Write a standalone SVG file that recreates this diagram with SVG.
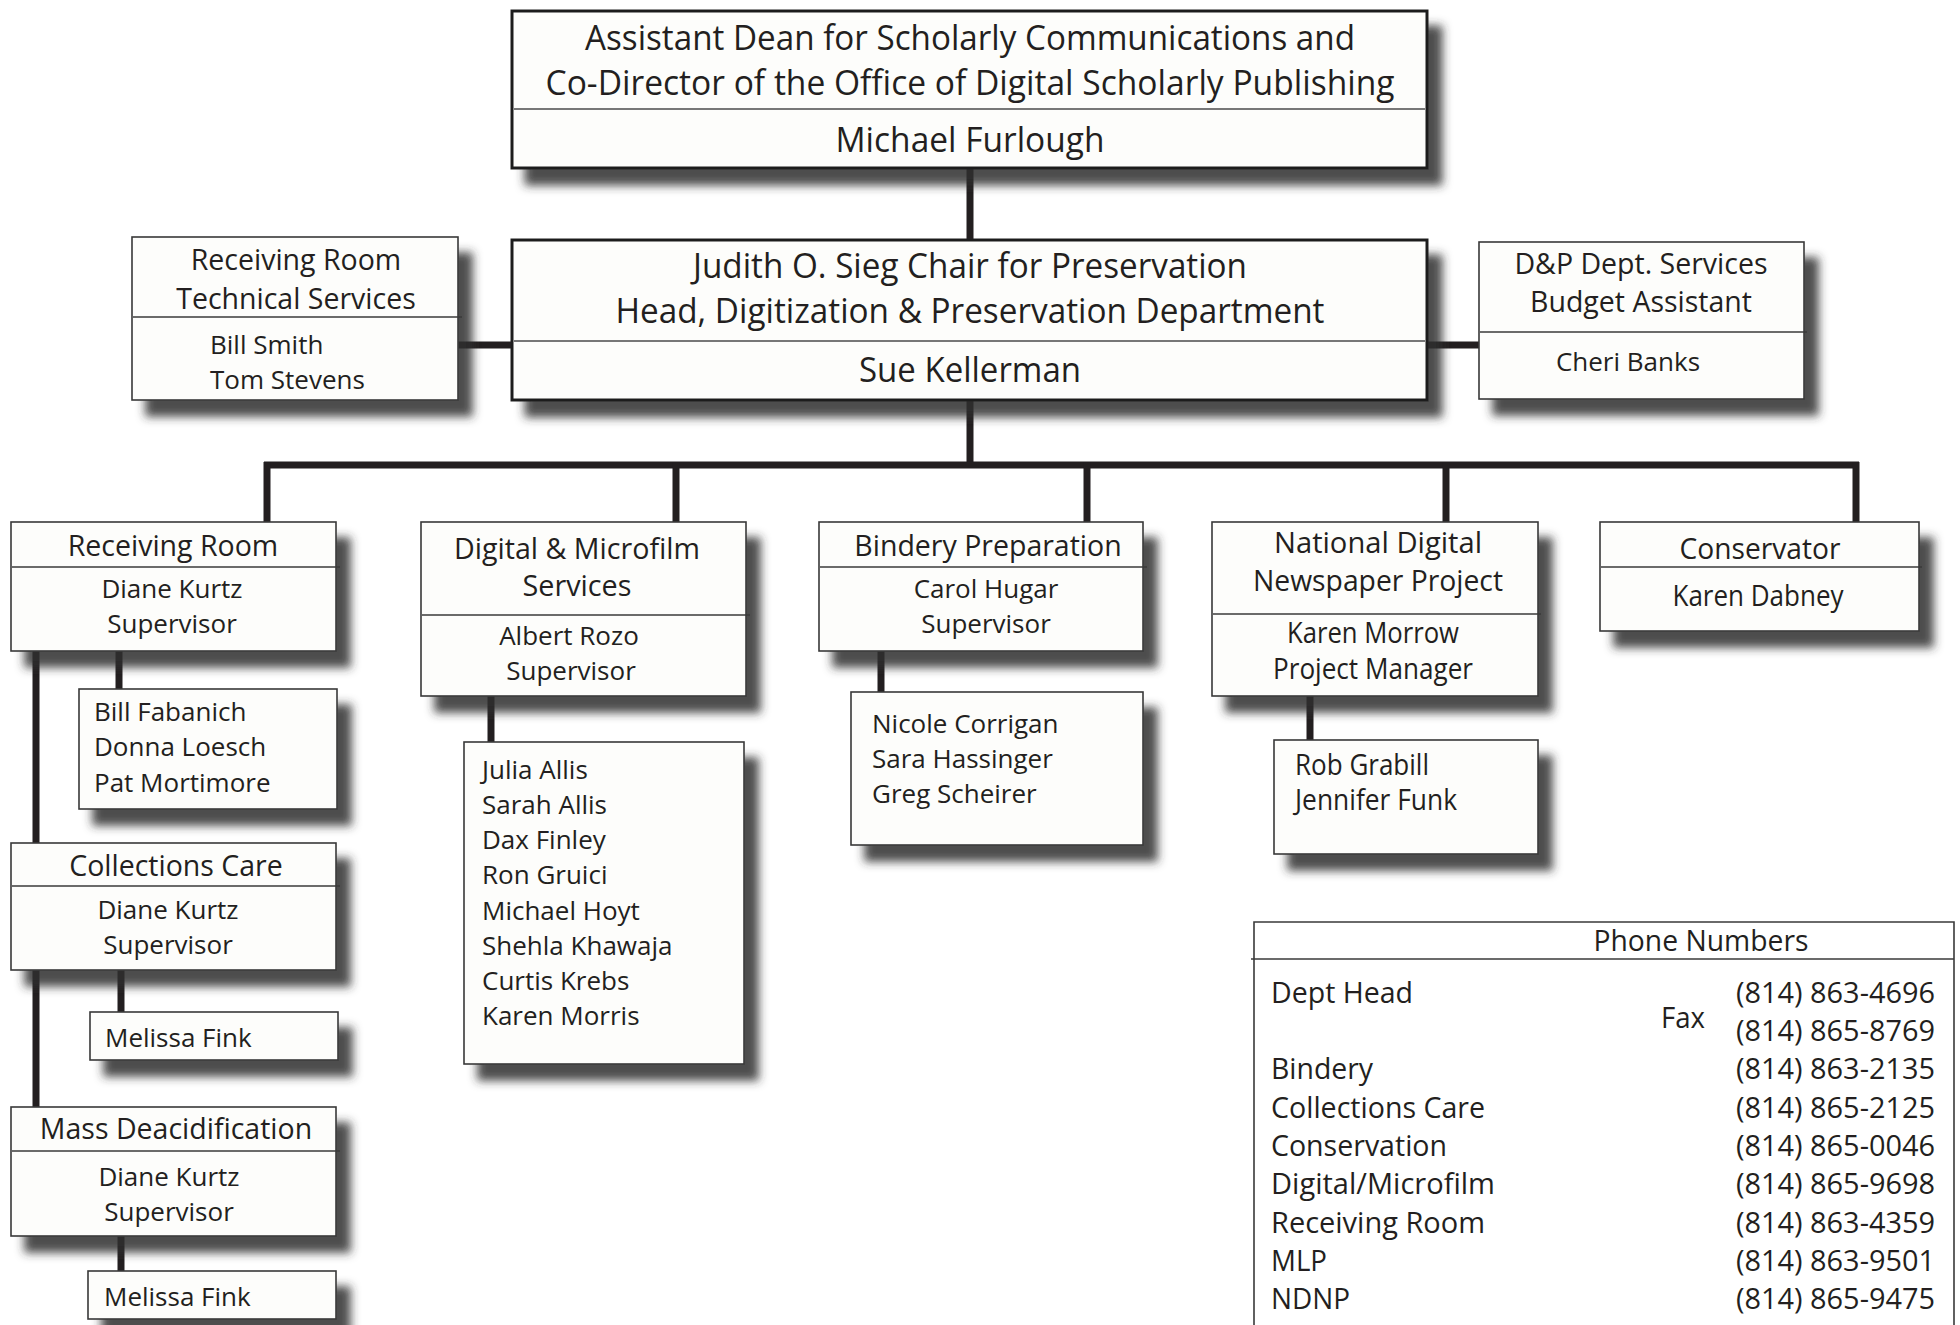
<svg xmlns="http://www.w3.org/2000/svg" width="1960" height="1325" viewBox="0 0 1960 1325">
<defs>
<filter id="sh" x="-10%" y="-20%" width="130%" height="180%">
<feDropShadow dx="14" dy="16" stdDeviation="5" flood-color="#2e2e2e" flood-opacity="0.85"/>
</filter>
<filter id="shs" x="-10%" y="-60%" width="130%" height="260%">
<feDropShadow dx="14" dy="16" stdDeviation="5" flood-color="#2e2e2e" flood-opacity="0.85"/>
</filter>
<style>
.box{fill:#fdfdfb;stroke:#3a3a3a;stroke-width:1.6}
.bbox{fill:#fdfdfb;stroke:#1f1f1f;stroke-width:3}
.div{stroke:#3a3a3a;stroke-width:1.5}
.gdiv{stroke:#777;stroke-width:1.8}
.con{stroke:#231f20;stroke-width:7;fill:none}
text{font-family:"Open Sans","Noto Sans","Liberation Sans",sans-serif;fill:#231f20;font-size:26px}
.c{text-anchor:middle}
.hd{font-size:28.5px}
.big{font-size:34px}
.ph{font-size:30px}
</style>
</defs>
<rect width="1960" height="1325" fill="#fff"/>

<g id="connectors">
<line class="con" x1="970" y1="168" x2="970" y2="240"/>
<line class="con" x1="458" y1="345" x2="512" y2="345"/>
<line class="con" x1="1428" y1="345" x2="1479" y2="345"/>
<line class="con" x1="970" y1="400" x2="970" y2="465"/>
<line class="con" x1="264" y1="465" x2="1859" y2="465"/>
<line class="con" x1="267" y1="462" x2="267" y2="522"/>
<line class="con" x1="676" y1="462" x2="676" y2="522"/>
<line class="con" x1="1087" y1="462" x2="1087" y2="522"/>
<line class="con" x1="1446" y1="462" x2="1446" y2="522"/>
<line class="con" x1="1856" y1="462" x2="1856" y2="522"/>
<line class="con" x1="36" y1="651" x2="36" y2="1107"/>
<line class="con" x1="119" y1="651" x2="119" y2="689"/>
<line class="con" x1="121" y1="970" x2="121" y2="1012"/>
<line class="con" x1="121" y1="1236" x2="121" y2="1271"/>
<line class="con" x1="491" y1="696" x2="491" y2="742"/>
<line class="con" x1="881" y1="651" x2="881" y2="692"/>
<line class="con" x1="1310" y1="696" x2="1310" y2="740"/>
</g>

<g id="dean">
<rect class="bbox" x="512" y="11" width="915" height="157" filter="url(#sh)"/>
<line class="gdiv" x1="514" y1="109" x2="1425" y2="109"/>
<text class="c big" x="970" y="50" textLength="770" lengthAdjust="spacingAndGlyphs">Assistant Dean for Scholarly Communications and</text>
<text class="c big" x="970" y="95" textLength="849" lengthAdjust="spacingAndGlyphs">Co-Director of the Office of Digital Scholarly Publishing</text>
<text class="c big" x="970" y="152" textLength="269" lengthAdjust="spacingAndGlyphs">Michael Furlough</text>
</g>

<g id="head">
<rect class="bbox" x="512" y="240" width="915" height="160" filter="url(#sh)"/>
<line class="gdiv" x1="514" y1="341" x2="1425" y2="341"/>
<text class="c big" x="970" y="278" textLength="554" lengthAdjust="spacingAndGlyphs">Judith O. Sieg Chair for Preservation</text>
<text class="c big" x="970" y="323" textLength="709" lengthAdjust="spacingAndGlyphs">Head, Digitization &amp; Preservation Department</text>
<text class="c big" x="970" y="382" textLength="222" lengthAdjust="spacingAndGlyphs">Sue Kellerman</text>
</g>

<g id="receiving-tech">
<rect class="box" x="132" y="237" width="326" height="163" filter="url(#sh)"/>
<line class="div" x1="133" y1="317" x2="462" y2="317"/>
<text class="c hd" x="296" y="270">Receiving Room</text>
<text class="c hd" x="296" y="309">Technical Services</text>
<text x="210" y="354">Bill Smith</text>
<text x="210" y="389">Tom Stevens</text>
</g>

<g id="budget">
<rect class="box" x="1479" y="242" width="325" height="157" filter="url(#sh)"/>
<line class="div" x1="1480" y1="332" x2="1807" y2="332"/>
<text class="c hd" x="1641" y="274">D&amp;P Dept. Services</text>
<text class="c hd" x="1641" y="312">Budget Assistant</text>
<text class="c" x="1628" y="371">Cheri Banks</text>
</g>

<g id="receiving">
<rect class="box" x="11" y="522" width="325" height="129" filter="url(#sh)"/>
<line class="div" x1="12" y1="567" x2="340" y2="567"/>
<text class="c hd" x="173" y="556">Receiving Room</text>
<text class="c" x="172" y="598">Diane Kurtz</text>
<text class="c" x="172" y="633">Supervisor</text>
</g>
<g id="receiving-staff">
<rect class="box" x="79" y="689" width="258" height="120" filter="url(#sh)"/>
<text x="94" y="721">Bill Fabanich</text>
<text x="94" y="756">Donna Loesch</text>
<text x="94" y="792">Pat Mortimore</text>
</g>

<g id="collections">
<rect class="box" x="11" y="843" width="325" height="127" filter="url(#sh)"/>
<line class="div" x1="12" y1="886" x2="340" y2="886"/>
<text class="c hd" x="176" y="876">Collections Care</text>
<text class="c" x="168" y="919">Diane Kurtz</text>
<text class="c" x="168" y="954">Supervisor</text>
</g>
<g id="collections-staff">
<rect class="box" x="90" y="1012" width="248" height="48" filter="url(#shs)"/>
<text x="105" y="1047">Melissa Fink</text>
</g>

<g id="mass">
<rect class="box" x="11" y="1107" width="325" height="129" filter="url(#sh)"/>
<line class="div" x1="12" y1="1151" x2="340" y2="1151"/>
<text class="c hd" x="176" y="1139">Mass Deacidification</text>
<text class="c" x="169" y="1186">Diane Kurtz</text>
<text class="c" x="169" y="1221">Supervisor</text>
</g>
<g id="mass-staff">
<rect class="box" x="88" y="1271" width="248" height="48" filter="url(#shs)"/>
<text x="104" y="1306">Melissa Fink</text>
</g>

<g id="digital">
<rect class="box" x="421" y="522" width="325" height="174" filter="url(#sh)"/>
<line class="div" x1="422" y1="615" x2="750" y2="615"/>
<text class="c hd" x="577" y="559" textLength="246" lengthAdjust="spacingAndGlyphs">Digital &amp; Microfilm</text>
<text class="c hd" x="577" y="596" textLength="109" lengthAdjust="spacingAndGlyphs">Services</text>
<text class="c" x="569" y="645">Albert Rozo</text>
<text class="c" x="571" y="680">Supervisor</text>
</g>
<g id="digital-staff">
<rect class="box" x="464" y="742" width="280" height="322" filter="url(#sh)"/>
<text x="482" y="779">Julia Allis</text>
<text x="482" y="814">Sarah Allis</text>
<text x="482" y="849">Dax Finley</text>
<text x="482" y="884">Ron Gruici</text>
<text x="482" y="920">Michael Hoyt</text>
<text x="482" y="955">Shehla Khawaja</text>
<text x="482" y="990">Curtis Krebs</text>
<text x="482" y="1025">Karen Morris</text>
</g>

<g id="bindery">
<rect class="box" x="819" y="522" width="324" height="129" filter="url(#sh)"/>
<line class="div" x1="820" y1="567" x2="1147" y2="567"/>
<text class="c hd" x="988" y="556">Bindery Preparation</text>
<text class="c" x="986" y="598">Carol Hugar</text>
<text class="c" x="986" y="633">Supervisor</text>
</g>
<g id="bindery-staff">
<rect class="box" x="851" y="692" width="292" height="153" filter="url(#sh)"/>
<text x="872" y="733">Nicole Corrigan</text>
<text x="872" y="768">Sara Hassinger</text>
<text x="872" y="803">Greg Scheirer</text>
</g>

<g id="ndnp">
<rect class="box" x="1212" y="522" width="326" height="174" filter="url(#sh)"/>
<line class="div" x1="1213" y1="614" x2="1541" y2="614"/>
<text class="c hd" x="1378" y="553" textLength="208" lengthAdjust="spacingAndGlyphs">National Digital</text>
<text class="c hd" x="1378" y="591" textLength="250" lengthAdjust="spacingAndGlyphs">Newspaper Project</text>
<text class="c hd" x="1373" y="643" textLength="172" lengthAdjust="spacingAndGlyphs">Karen Morrow</text>
<text class="c hd" x="1373" y="679" textLength="200" lengthAdjust="spacingAndGlyphs">Project Manager</text>
</g>
<g id="ndnp-staff">
<rect class="box" x="1274" y="740" width="264" height="114" filter="url(#sh)"/>
<text class="hd" x="1295" y="775" textLength="134" lengthAdjust="spacingAndGlyphs">Rob Grabill</text>
<text class="hd" x="1295" y="810" textLength="162" lengthAdjust="spacingAndGlyphs">Jennifer Funk</text>
</g>

<g id="conservator">
<rect class="box" x="1600" y="522" width="319" height="109" filter="url(#sh)"/>
<line class="div" x1="1601" y1="567" x2="1922" y2="567"/>
<text class="c hd" x="1760" y="559" textLength="161" lengthAdjust="spacingAndGlyphs">Conservator</text>
<text class="c hd" x="1758" y="606" textLength="171" lengthAdjust="spacingAndGlyphs">Karen Dabney</text>
</g>

<g id="phones">
<path d="M1254,1325 V922 H1954 V1325" fill="#fff" stroke="#3a3a3a" stroke-width="1.6"/>
<line class="div" x1="1251" y1="959" x2="1954" y2="959"/>
<text class="c ph" x="1701" y="951" textLength="215" lengthAdjust="spacingAndGlyphs">Phone Numbers</text>
<text class="ph" x="1271" y="1003" textLength="142" lengthAdjust="spacingAndGlyphs">Dept Head</text>
<text class="ph" x="1661" y="1028" textLength="44" lengthAdjust="spacingAndGlyphs">Fax</text>
<text class="ph" x="1271" y="1079" textLength="102" lengthAdjust="spacingAndGlyphs">Bindery</text>
<text class="ph" x="1271" y="1118" textLength="214" lengthAdjust="spacingAndGlyphs">Collections Care</text>
<text class="ph" x="1271" y="1156" textLength="176" lengthAdjust="spacingAndGlyphs">Conservation</text>
<text class="ph" x="1271" y="1194" textLength="224" lengthAdjust="spacingAndGlyphs">Digital/Microfilm</text>
<text class="ph" x="1271" y="1233" textLength="214" lengthAdjust="spacingAndGlyphs">Receiving Room</text>
<text class="ph" x="1271" y="1271" textLength="56" lengthAdjust="spacingAndGlyphs">MLP</text>
<text class="ph" x="1271" y="1309" textLength="79" lengthAdjust="spacingAndGlyphs">NDNP</text>
<text class="ph" x="1736" y="1003" textLength="199" lengthAdjust="spacingAndGlyphs">(814) 863-4696</text>
<text class="ph" x="1736" y="1041" textLength="199" lengthAdjust="spacingAndGlyphs">(814) 865-8769</text>
<text class="ph" x="1736" y="1079" textLength="199" lengthAdjust="spacingAndGlyphs">(814) 863-2135</text>
<text class="ph" x="1736" y="1118" textLength="199" lengthAdjust="spacingAndGlyphs">(814) 865-2125</text>
<text class="ph" x="1736" y="1156" textLength="199" lengthAdjust="spacingAndGlyphs">(814) 865-0046</text>
<text class="ph" x="1736" y="1194" textLength="199" lengthAdjust="spacingAndGlyphs">(814) 865-9698</text>
<text class="ph" x="1736" y="1233" textLength="199" lengthAdjust="spacingAndGlyphs">(814) 863-4359</text>
<text class="ph" x="1736" y="1271" textLength="199" lengthAdjust="spacingAndGlyphs">(814) 863-9501</text>
<text class="ph" x="1736" y="1309" textLength="199" lengthAdjust="spacingAndGlyphs">(814) 865-9475</text>
</g>
</svg>
